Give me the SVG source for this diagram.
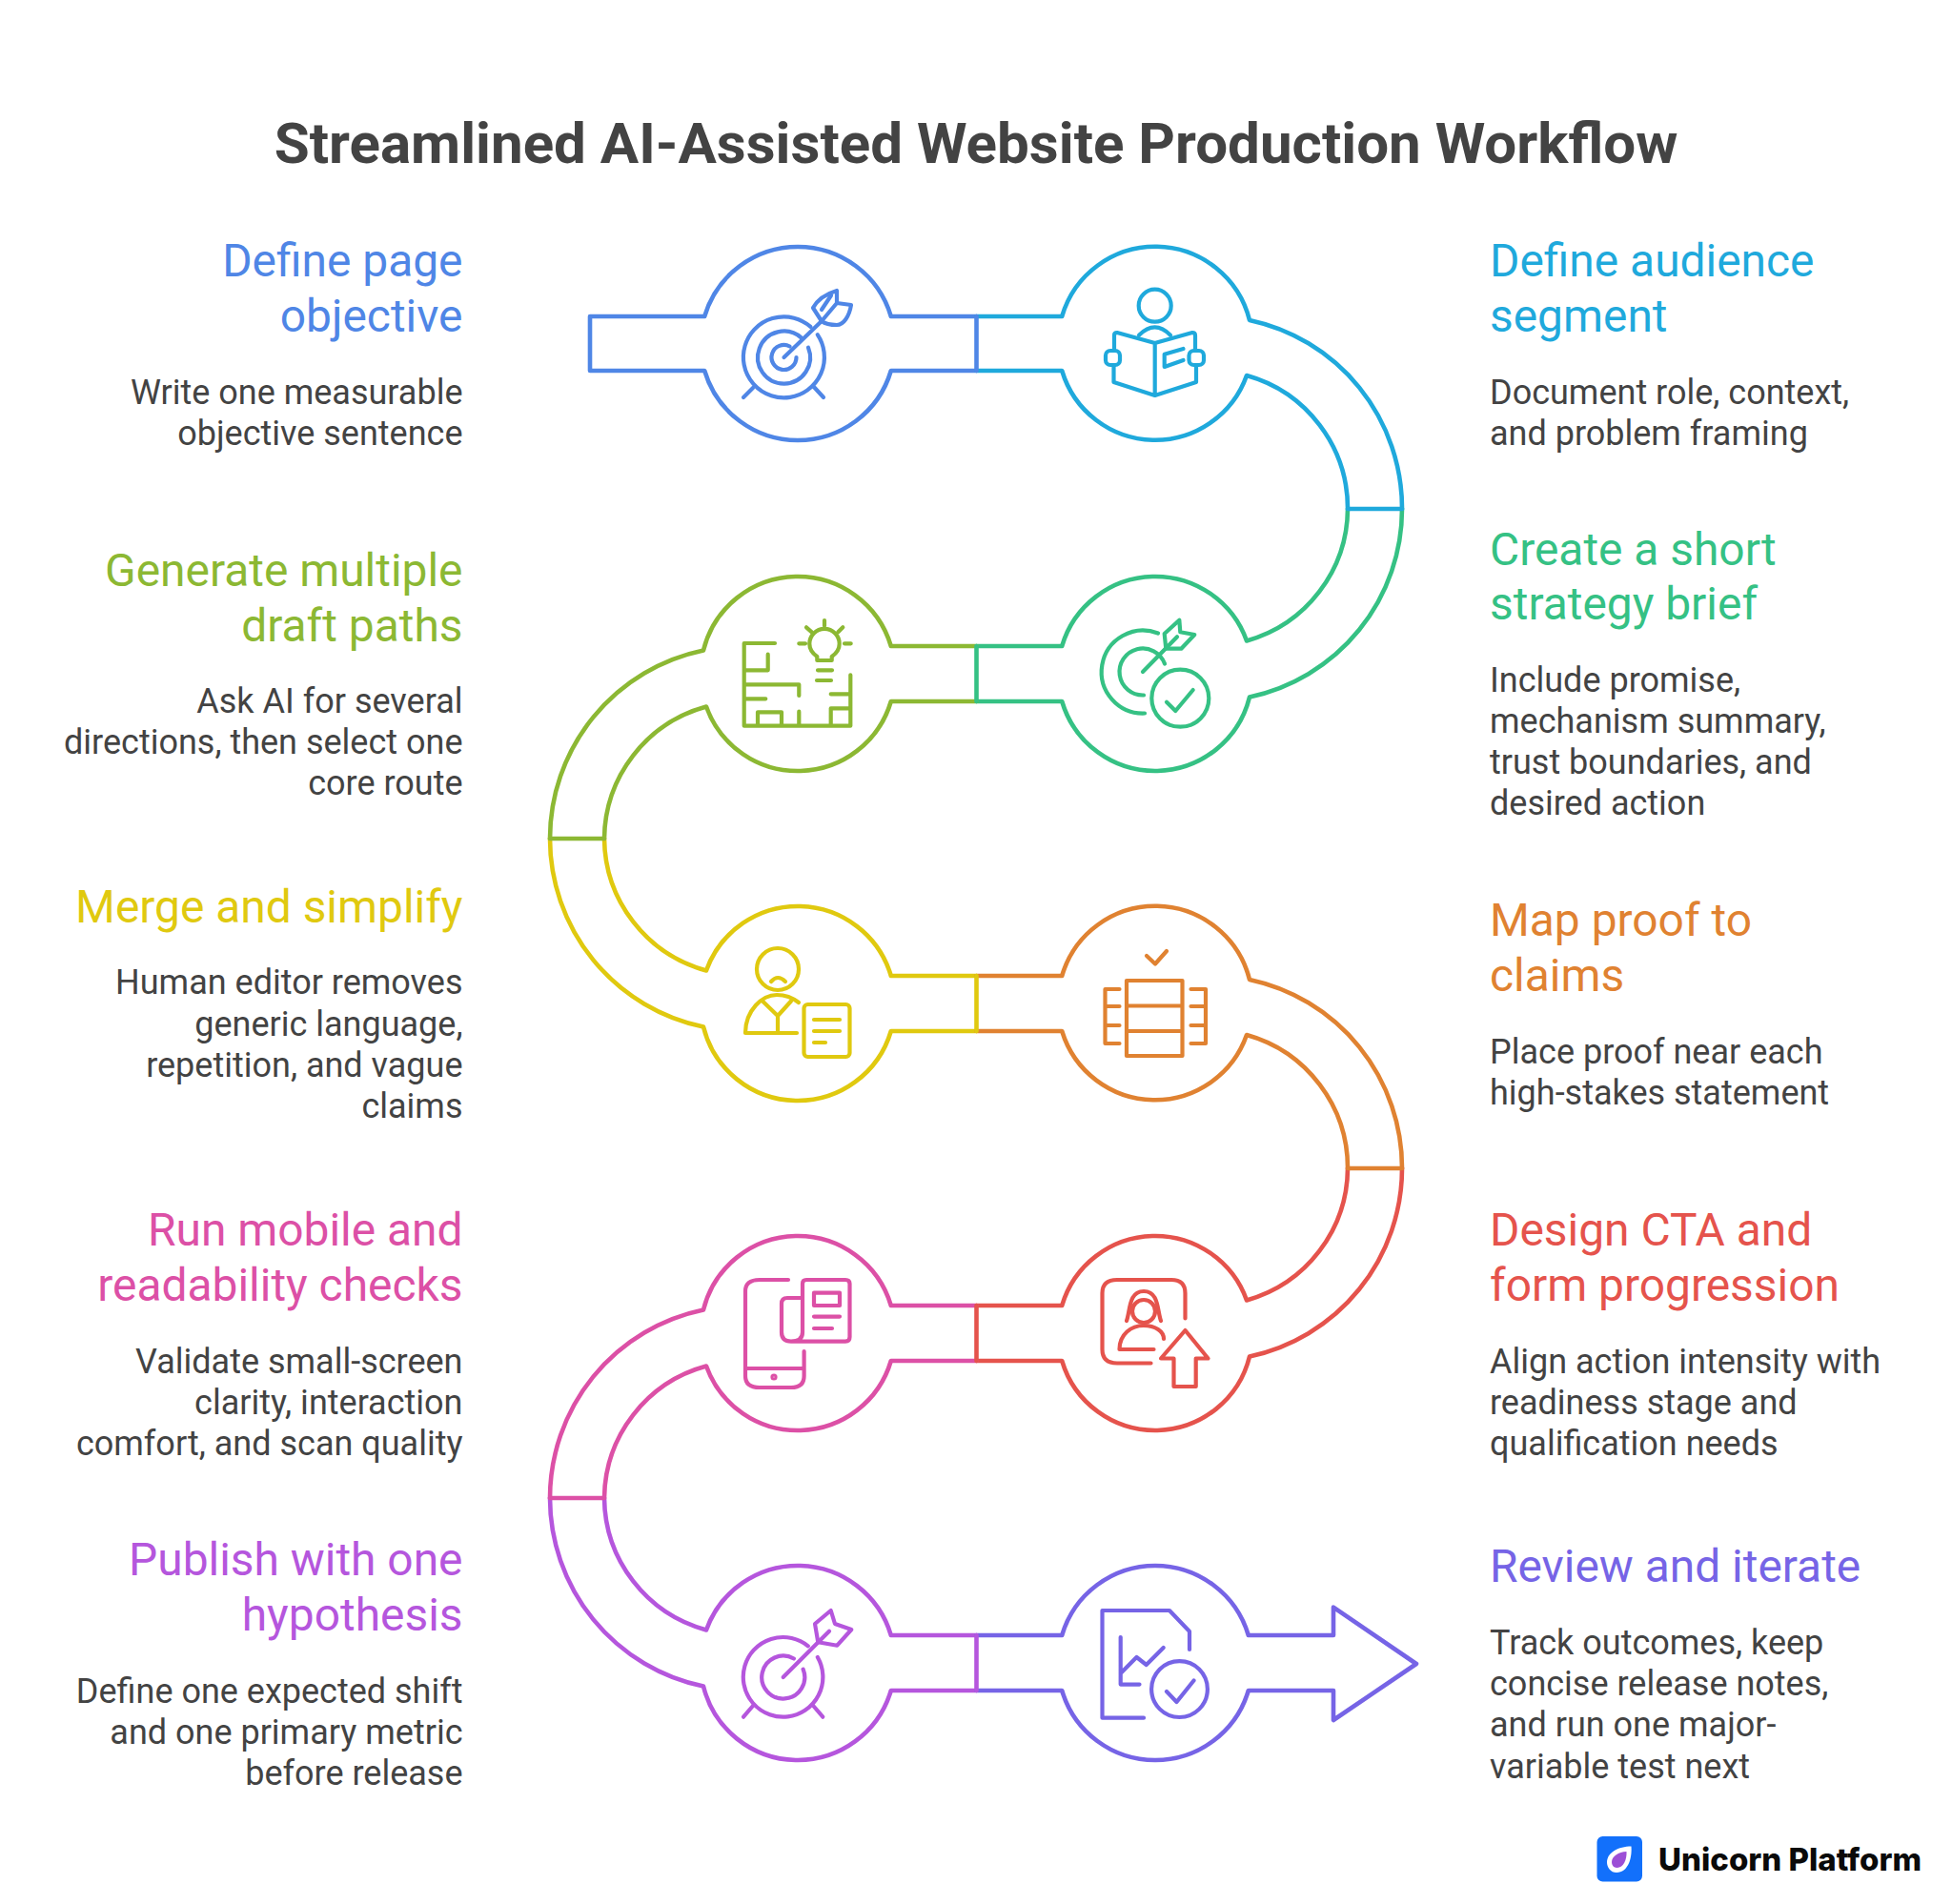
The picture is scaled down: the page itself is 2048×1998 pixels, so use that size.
<svg xmlns="http://www.w3.org/2000/svg" width="2048" height="1998" viewBox="0 0 2048 1998">
<style>
text{font-family:Roboto,"Liberation Sans",sans-serif}
.t{font-size:60.1px;font-weight:700;fill:#434343;text-anchor:middle}
.h{font-size:47.9px;font-weight:450;fill:currentColor}
.b{font-size:36px;font-weight:400;fill:#434343;transform:translateY(.6px)}
.l{text-anchor:end}
.band{fill:none;stroke:currentColor;stroke-width:4.6;stroke-linejoin:round;stroke-linecap:round}
.ic *{fill:none;stroke:currentColor;stroke-width:4.2;stroke-linecap:round;stroke-linejoin:round}
.c1{color:#4f86e6}.c2{color:#1fa9dc}.c3{color:#35c184}.c4{color:#8cb833}.c5{color:#e0c90f}.c6{color:#e08231}.c7{color:#e5534c}.c8{color:#dc50a6}.c9{color:#b556dd}.c10{color:#7664e6}
</style>
<rect width="2048" height="1998" fill="#fff"/>
<text class="t" x="1024" y="171">Streamlined AI-Assisted Website Production Workflow</text>

<g id="step-1" class="c1">
<path class="band" d="M1024.5 332H934.8A102 102 0 0 0 739.2 332H619V389H739.2A102 102 0 0 0 934.8 389H1024.5"/>
<g class="ic">
<path d="M850.4 342.9A42.5 42.5 0 1 0 857.7 351.2"/><path d="M840.9 354.6A27.5 27.5 0 1 0 848 364.7"/><path d="M828.6 363.5A13 13 0 1 0 835.5 375"/>
<path d="M822.5 375L862 337"/><path d="M862 337L853 323C858 314 868 308 878 305V318L893 320C891 332 885 341 878 341C872 341 866 340 862 337ZM878 318L862 337M862 325L872 310"/>
<path d="M790 407L780 417M853 405L864 417"/>
</g>
<text class="h l" x="485.5" y="289.5">Define page</text><text class="h l" x="485.5" y="347.5">objective</text>
<text class="b l" x="485.5" y="423">Write one measurable</text><text class="b l" x="485.5" y="466">objective sentence</text>
</g>

<g id="step-2" class="c2">
<path class="band" d="M1024.5 332H1114.2A102 102 0 0 1 1311 336A202 202 0 0 1 1471 534M1414 534A145 145 0 0 0 1308 394A102 102 0 0 1 1114.2 389H1024.5"/>
<g class="ic">
<circle cx="1211.7" cy="320.7" r="17"/><path d="M1195 351.7Q1211.7 335 1228 351.7"/>
<path d="M1211.7 360L1172 349Q1169 349 1169 352V368M1168.5 383V401L1211.7 415L1255 401V383M1254 368V352Q1254 349 1251 349L1211.7 360V415"/>
<rect x="1160" y="368" width="15" height="15" rx="5"/><rect x="1247.5" y="368" width="15.5" height="15" rx="5"/>
<path d="M1241.5 366L1221.7 371.7V385L1241.5 378"/>
</g>
<text class="h" x="1563" y="289.5">Define audience</text><text class="h" x="1563" y="347.5">segment</text>
<text class="b" x="1563" y="423">Document role, context,</text><text class="b" x="1563" y="466">and problem framing</text>
</g>

<g id="step-3" class="c3">
<path class="band" d="M1471 534A202 202 0 0 1 1311 731.5A102 102 0 0 1 1114.2 736H1024.5M1024.5 678H1114.2A102 102 0 0 1 1308 672.5A145 145 0 0 0 1414 534"/>
<g class="ic">
<path d="M1215 664.5A43.5 43.5 0 1 0 1201 748.5"/><path d="M1222 696.5A24.5 24.5 0 1 0 1200 729.5"/>
<path d="M1199 705L1235 668.3"/><path d="M1223.3 680.7L1221.7 665L1237.3 650.7L1238.3 663.3L1253.3 666L1239.3 680.7Z"/>
<circle cx="1238.3" cy="732.7" r="30"/><path d="M1224 736.7L1233.3 746L1251.7 724"/>
</g>
<text class="h" x="1563" y="592.5">Create a short</text><text class="h" x="1563" y="650">strategy brief</text>
<text class="b" x="1563" y="725">Include promise,</text><text class="b" x="1563" y="768">mechanism summary,</text><text class="b" x="1563" y="811">trust boundaries, and</text><text class="b" x="1563" y="854">desired action</text>
</g>

<g id="step-4" class="c4">
<path class="band" d="M1024.5 678H934.8A102 102 0 0 0 738 682.5A202 202 0 0 0 577 880M634 880A145 145 0 0 1 741 741.5A102 102 0 0 0 934.8 736H1024.5"/>
<g class="ic">
<path d="M857.3 693V689C853 686 849.3 681 849.3 675.5A15.7 15.7 0 0 1 880.7 675.5C880.7 681 877 686 872.7 689V693Z"/>
<path d="M858 703.3H873M857 714H872M865 651V656.7M846 658.3L851.7 663.3M884.3 658.3L879.3 663.3M838.3 675.3H845M886 675.3H892.7"/>
<path d="M813 675H780.7V761.7H892.3V708.3M805.7 686.7V703.3H780.7M780.7 718.3H838.3V730M780.7 733.3H803.3M795 761.7V747.3H820V761.7M838.3 746.7V761.7M871.7 761.7V743.3H892.3M871.7 728.3H892.3"/>
</g>
<text class="h l" x="485.5" y="614.5">Generate multiple</text><text class="h l" x="485.5" y="672.5">draft paths</text>
<text class="b l" x="485.5" y="747">Ask AI for several</text><text class="b l" x="485.5" y="790">directions, then select one</text><text class="b l" x="485.5" y="833">core route</text>
</g>

<g id="step-5" class="c5">
<path class="band" d="M577 880A202 202 0 0 0 738 1077.5A102 102 0 0 0 934.8 1082H1024.5M1024.5 1024H934.8A102 102 0 0 0 741 1018.5A145 145 0 0 1 634 880"/>
<g class="ic">
<circle cx="816" cy="1017" r="22"/><path d="M809 1030Q816 1022 824 1030"/>
<path d="M836 1084H782C782 1060 800 1044 815 1044Q828 1044 838 1052M800 1050.5L816 1066L830 1050.5M816 1066V1084"/>
<rect x="843.5" y="1054" width="48" height="55" rx="4"/><path d="M854 1070H881M854 1082H881M854 1094H866"/>
</g>
<text class="h l" x="485.5" y="967.5">Merge and simplify</text>
<text class="b l" x="485.5" y="1042">Human editor removes</text><text class="b l" x="485.5" y="1086">generic language,</text><text class="b l" x="485.5" y="1129">repetition, and vague</text><text class="b l" x="485.5" y="1172">claims</text>
</g>

<g id="step-6" class="c6">
<path class="band" d="M1024.5 1024H1114.2A102 102 0 0 1 1311 1028A202 202 0 0 1 1471 1226M1414 1226A145 145 0 0 0 1308 1086A102 102 0 0 1 1114.2 1082H1024.5"/>
<g class="ic">
<path d="M1203 1003L1212 1011.5L1224 998"/>
<path d="M1182 1029H1240.5V1108H1182ZM1182 1055.5H1240.5M1182 1082H1240.5"/>
<path d="M1174.5 1038H1159.5V1095H1174.5M1159.5 1056H1174.5M1159.5 1076H1174.5M1249.5 1038H1265V1095H1249.5M1249.5 1056H1265M1249.5 1076H1265"/>
</g>
<text class="h" x="1563" y="981.5">Map proof to</text><text class="h" x="1563" y="1040">claims</text>
<text class="b" x="1563" y="1115.5">Place proof near each</text><text class="b" x="1563" y="1158.5">high-stakes statement</text>
</g>

<g id="step-7" class="c7">
<path class="band" d="M1471 1226A202 202 0 0 1 1311 1423.5A102 102 0 0 1 1114.2 1428H1024.5M1024.5 1370H1114.2A102 102 0 0 1 1308 1364.5A145 145 0 0 0 1414 1226"/>
<g class="ic">
<path d="M1243.5 1383.5V1357Q1243.5 1343 1229 1343H1172Q1156.5 1343 1156.5 1357V1416Q1156.5 1430.5 1172 1430.5H1207.5"/>
<circle cx="1200" cy="1376" r="12"/><path d="M1182 1386C1186 1375 1184 1355 1200 1355C1216 1355 1214 1375 1218 1386"/>
<path d="M1210.5 1416H1174.5C1174.5 1400 1187 1391 1200 1391C1212 1391 1221 1397 1221 1405"/>
<path d="M1243.5 1396L1267.5 1425.5H1254.7V1455H1231.5V1425.5H1218Z"/>
</g>
<text class="h" x="1563" y="1306.5">Design CTA and</text><text class="h" x="1563" y="1364.5">form progression</text>
<text class="b" x="1563" y="1440">Align action intensity with</text><text class="b" x="1563" y="1483">readiness stage and</text><text class="b" x="1563" y="1526">qualification needs</text>
</g>

<g id="step-8" class="c8">
<path class="band" d="M1024.5 1370H934.8A102 102 0 0 0 738 1374.5A202 202 0 0 0 577 1572M634 1572A145 145 0 0 1 741 1433.5A102 102 0 0 0 934.8 1428H1024.5"/>
<g class="ic">
<path d="M827 1343H797Q782 1343 782 1355V1444Q782 1456 797 1456H830Q843.6 1456 843.6 1444V1418M782 1436H843.6"/>
<circle cx="812" cy="1445" r="1.5"/>
<path d="M842 1362H826Q820 1362 820 1368V1398Q820 1407.6 830 1407.6Q842 1407.6 842 1398V1347Q842 1343 846 1343H887Q891.5 1343 891.5 1347V1403Q891.5 1407.6 887 1407.6H830"/>
<rect x="854" y="1356.7" width="27" height="13.3"/><path d="M854 1381.6H881M854 1394H873"/>
</g>
<text class="h l" x="485.5" y="1306.5">Run mobile and</text><text class="h l" x="485.5" y="1364.5">readability checks</text>
<text class="b l" x="485.5" y="1440">Validate small-screen</text><text class="b l" x="485.5" y="1483">clarity, interaction</text><text class="b l" x="485.5" y="1526">comfort, and scan quality</text>
</g>

<g id="step-9" class="c9">
<path class="band" d="M577 1572A202 202 0 0 0 738 1769.5A102 102 0 0 0 934.8 1774H1024.5M1024.5 1716H934.8A102 102 0 0 0 741 1710.5A145 145 0 0 1 634 1572"/>
<g class="ic">
<path d="M847.8 1727.3A41.8 41.8 0 1 0 857.8 1739"/><path d="M832.9 1740.5A22.5 22.5 0 1 0 842.6 1751.6"/>
<path d="M821.7 1760L870 1711.7"/>
<path d="M871.7 1690L855 1704L858.3 1723.3L878.3 1726.7L893.3 1710L876 1704Z"/>
<path d="M790 1790L780 1801.7M853.3 1790L863.3 1801.7"/>
</g>
<text class="h l" x="485.5" y="1653">Publish with one</text><text class="h l" x="485.5" y="1710.5">hypothesis</text>
<text class="b l" x="485.5" y="1786">Define one expected shift</text><text class="b l" x="485.5" y="1829">and one primary metric</text><text class="b l" x="485.5" y="1872">before release</text>
</g>

<g id="step-10" class="c10">
<path class="band" d="M1024.5 1716H1114.2A102 102 0 0 1 1309.8 1716H1399V1686.6L1486 1746L1399 1805V1774H1309.8A102 102 0 0 1 1114.2 1774H1024.5"/>
<g class="ic">
<path d="M1248 1731V1712L1227 1690H1156.5V1802.7H1200"/>
<path d="M1175.7 1718V1767.6H1195.5M1175.7 1756L1192.5 1739L1202.7 1747L1220.7 1729"/>
<circle cx="1237.5" cy="1772.6" r="29.4"/><path d="M1224 1775L1234.5 1786L1252.5 1763.5"/>
</g>
<text class="h" x="1563" y="1659.5">Review and iterate</text>
<text class="b" x="1563" y="1735">Track outcomes, keep</text><text class="b" x="1563" y="1778">concise release notes,</text><text class="b" x="1563" y="1821">and run one major-</text><text class="b" x="1563" y="1865">variable test next</text>
</g>

<g id="connectors">
<path class="band c1" d="M1024.5 332V389"/>
<path class="band c2" d="M1414 534H1471"/>
<path class="band c3" d="M1024.5 678V736"/>
<path class="band c4" d="M577 880H634"/>
<path class="band c5" d="M1024.5 1024V1082"/>
<path class="band c6" d="M1414 1226H1471"/>
<path class="band c7" d="M1024.5 1370V1428"/>
<path class="band c8" d="M577 1572H634"/>
<path class="band c9" d="M1024.5 1716V1774"/>
</g>

<g id="logo">
<rect x="1675.5" y="1927" width="47.5" height="47.5" rx="6" fill="#1270fb"/>
<path d="M1711.5 1937.5C1712.5 1950 1708 1965 1696 1965C1690 1965 1686 1960 1686 1954C1686 1944 1698 1937.5 1711.5 1937.5Z" fill="#fff"/>
<path d="M1706.5 1943C1707 1951 1703.5 1960 1696.5 1960C1693 1960 1691 1957 1691 1954C1691 1948 1698 1943.5 1706.5 1943Z" fill="#9c4fd6"/>
<text x="1740" y="1963" font-size="33" font-weight="800" fill="#0a0a0a" textLength="276" lengthAdjust="spacingAndGlyphs" style="font-family:Inter,Roboto,sans-serif">Unicorn Platform</text>
</g>
</svg>
